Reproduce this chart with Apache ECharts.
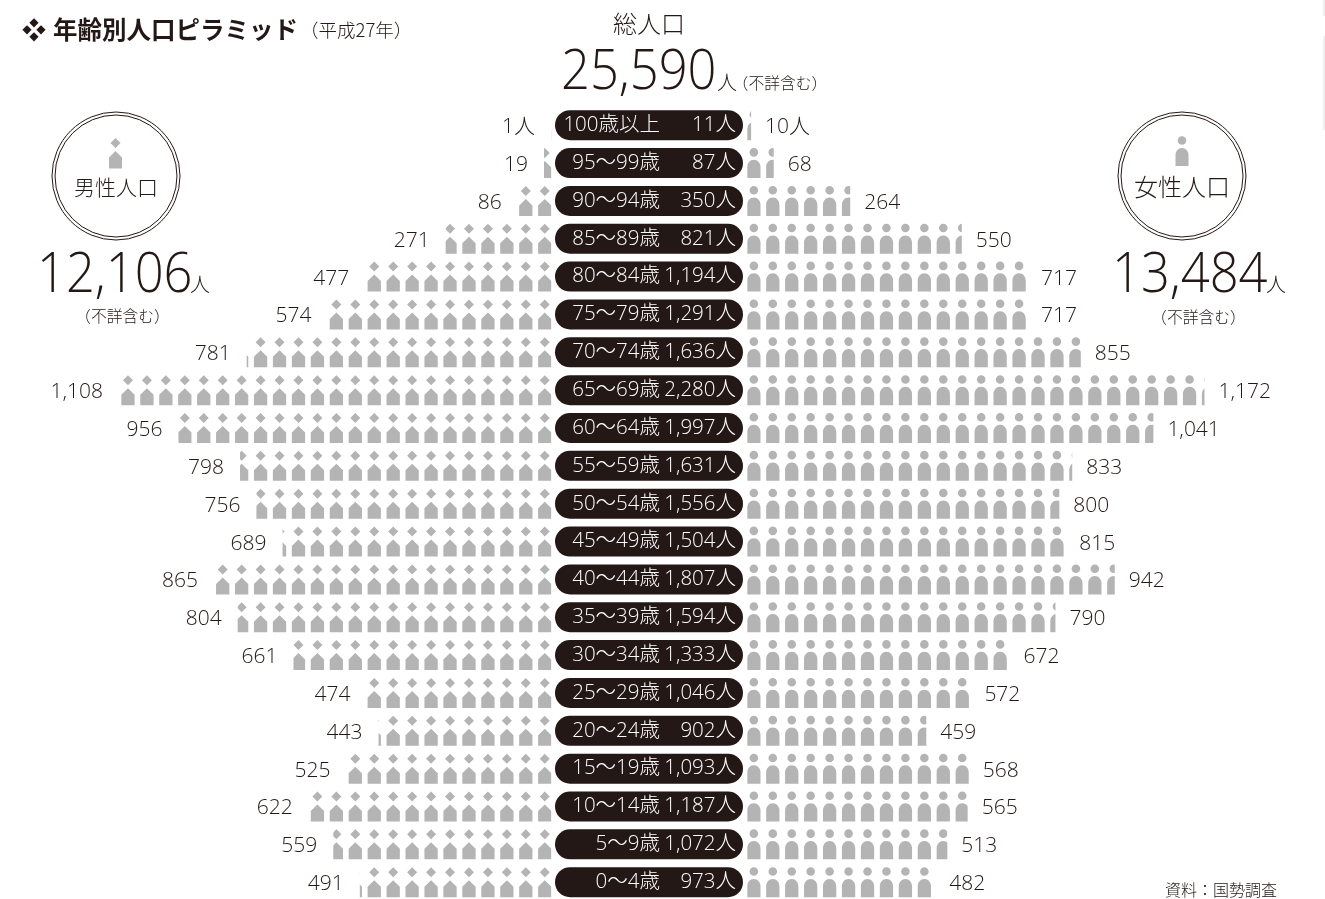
<!DOCTYPE html>
<html>
<head>
<meta charset="utf-8">
<title>年齢別人口ピラミッド</title>
<script src="https://cdn.jsdelivr.net/npm/echarts@6/dist/echarts.min.js"></script>
<style>
html, body { margin: 0; padding: 0; background: #fff; }
#mychart { width: 1325px; height: 899px; }
</style>
</head>
<body>
<div id="mychart"></div>
<script>
var ages = ['100歳以上', '95～99歳', '90～94歳', '85～89歳', '80～84歳', '75～79歳', '70～74歳',
    '65～69歳', '60～64歳', '55～59歳', '50～54歳', '45～49歳', '40～44歳', '35～39歳', '30～34歳',
    '25～29歳', '20～24歳', '15～19歳', '10～14歳', '5～9歳', '0～4歳'];
var male = [1, 19, 86, 271, 477, 574, 781, 1108, 956, 798, 756, 689, 865, 804, 661, 474, 443, 525, 622, 559, 491];
var female = [10, 68, 264, 550, 717, 717, 855, 1172, 1041, 833, 800, 815, 942, 790, 672, 572, 459, 568, 565, 513, 482];
var totals = [11, 87, 350, 821, 1194, 1291, 1636, 2280, 1997, 1631, 1556, 1504, 1807, 1594, 1333, 1046, 902, 1093, 1187, 1072, 973];
var pill = ages.map(function () { return 1; });
var totalAll = '25,590';
var totalMale = '12,106';
var totalFemale = '13,484';

var ink = '#231815';
var gray = '#b4b4b4';
var fontNum = '"Open Sans", "Noto Sans CJK JP", sans-serif';
var fontJp = '"Noto Sans CJK JP", sans-serif';

// figures, each one stands for 50 people
var manPath = 'path://M6.65 0L11.65 5L6.65 10L1.65 5ZM6.65 13L13.3 19.5L13.3 30L0 30L0 19.5Z';
var womanPath = 'path://M6.65 0A4.3 4.3 0 1 1 6.65 8.6A4.3 4.3 0 1 1 6.65 0ZM6.65 11.7C10.6 11.7 13.3 15 13.3 19L13.3 30L0 30L0 19C0 15 2.7 11.7 6.65 11.7Z';
// 27 figures fit exactly in this width, which keeps the pitch at 19.67px
var axisMax = 1345;
var sideWidth = 524.8;
// grid runs from the first row centre to the last one (boundaryGap false), a taller grid gets cut by the canvas
var rowsTop = 125.2;
var rowsHeight = 757;

function num(v) {
    return String(v).replace(/\B(?=(\d{3})+$)/g, ',');
}

function figureSeries(name, data, path, xIndex) {
    return {
        name: name,
        type: 'pictorialBar',
        xAxisIndex: xIndex,
        yAxisIndex: xIndex,
        data: data,
        symbol: path,
        symbolSize: [13.3, 30],
        symbolRepeat: 'fixed',
        symbolMargin: 3.15,
        symbolClip: true,
        symbolBoundingData: axisMax,
        symbolPosition: 'start',
        itemStyle: { color: gray },
        silent: true
    };
}

// pictorialBar puts its label at the bounding data, so the numbers sit on an invisible bar
function labelSeries(name, data, xIndex, pos, gap) {
    return {
        name: name,
        type: 'bar',
        xAxisIndex: xIndex,
        yAxisIndex: xIndex,
        data: data,
        barWidth: 30,
        clip: false,
        silent: true,
        itemStyle: { color: 'transparent' },
        label: {
            show: true,
            position: pos,
            distance: gap,
            offset: [0, 2],
            fontFamily: fontNum,
            fontWeight: 300,
            fontSize: 21,
            color: ink,
            formatter: function (p) {
                return num(p.value) + (p.dataIndex === 0 ? '人' : '');
            }
        }
    };
}

function txt(x, y, text, size, align, family, weight, scaleX) {
    return {
        type: 'text',
        x: x,
        y: y,
        scaleX: scaleX || 1,
        style: {
            text: text,
            fontSize: size,
            fontFamily: family || fontJp,
            fontWeight: weight || 300,
            fill: ink,
            align: align || 'left',
            verticalAlign: 'middle'
        }
    };
}

function ring(cx, cy) {
    return [
        { type: 'circle', shape: { cx: cx, cy: cy, r: 64 }, style: { fill: 'none', stroke: ink, lineWidth: 1 } },
        { type: 'circle', shape: { cx: cx, cy: cy, r: 61 }, style: { fill: 'none', stroke: ink, lineWidth: 1 } }
    ];
}

function diamond(cx, cy, r, color) {
    return {
        type: 'polygon',
        shape: { points: [[cx, cy - r], [cx + r, cy], [cx, cy + r], [cx - r, cy]] },
        style: { fill: color }
    };
}

var dom = document.getElementById('mychart');
var myChart = echarts.init(dom);

var option = {
    animation: false,
    backgroundColor: '#fff',
    textStyle: { fontFamily: fontJp },
    grid: [
        { left: 551.4 - sideWidth, width: sideWidth, top: rowsTop, height: rowsHeight },
        { left: 747.2, width: sideWidth, top: rowsTop, height: rowsHeight },
        { left: 555, width: 188, top: rowsTop, height: rowsHeight }
    ],
    xAxis: [
        { type: 'value', gridIndex: 0, inverse: true, min: 0, max: axisMax, show: false },
        { type: 'value', gridIndex: 1, min: 0, max: axisMax, show: false },
        { type: 'value', gridIndex: 2, min: 0, max: 1, show: false }
    ],
    yAxis: [
        { type: 'category', gridIndex: 0, inverse: true, boundaryGap: false, data: ages, show: false },
        { type: 'category', gridIndex: 1, inverse: true, boundaryGap: false, data: ages, show: false },
        { type: 'category', gridIndex: 2, inverse: true, boundaryGap: false, data: ages, show: false }
    ],
    series: [
        figureSeries('男性', male, manPath, 0),
        figureSeries('女性', female, womanPath, 1),
        labelSeries('男性人数', male, 0, 'left', 16),
        labelSeries('女性人数', female, 1, 'right', 14),
        {
            name: '総数',
            type: 'bar',
            xAxisIndex: 2,
            yAxisIndex: 2,
            data: pill,
            barWidth: 30,
            clip: false,
            silent: true,
            itemStyle: { color: ink, borderRadius: 15 },
            label: {
                show: true,
                position: 'insideLeft',
                distance: 0,
                formatter: function (p) {
                    return '{a|' + ages[p.dataIndex] + '}{b|' + num(totals[p.dataIndex]) + '人}';
                },
                rich: {
                    a: { width: 105, align: 'right', fontSize: 20.5, fontFamily: fontNum, fontWeight: 300, color: '#fff' },
                    b: { width: 76, align: 'right', fontSize: 20.5, fontFamily: fontNum, fontWeight: 300, color: '#fff' }
                }
            }
        }
    ],
    graphic: [
        diamond(34, 22.8, 4.6, ink),
        diamond(27, 29.8, 4.6, ink),
        diamond(41, 29.8, 4.6, ink),
        diamond(34, 36.8, 4.6, ink),
        txt(53, 30, '年齢別人口ピラミッド', 24.5, 'left', fontJp, 700),
        txt(300, 30, '（平成27年）', 18.5),
        txt(649, 24, '総人口', 24, 'center'),
        txt(561, 73, totalAll, 56, 'left', fontNum, 300, 0.905),
        txt(717, 82, '人', 20),
        txt(732.6, 83, '（不詳含む）', 15.8),
        // icon in the male circle
        diamond(115.5, 143, 5, gray),
        { type: 'polygon', shape: { points: [[115.5, 151], [122, 157.5], [122, 168.5], [109, 168.5], [109, 157.5]] }, style: { fill: gray } },
        // icon in the female circle
        { type: 'circle', shape: { cx: 1182, cy: 140.5, r: 4.3 }, style: { fill: gray } },
        { type: 'rect', shape: { x: 1175.5, y: 148, width: 13, height: 18, r: [6.5, 6.5, 0, 0] }, style: { fill: gray } },
        txt(116, 187, '男性人口', 21, 'center'),
        txt(1182, 187, '女性人口', 24, 'center'),
        txt(37, 276, totalMale, 56, 'left', fontNum, 300, 0.905),
        txt(190, 284, '人', 20),
        txt(122.5, 316, '（不詳含む）', 15.8, 'center'),
        txt(1112, 276, totalFemale, 56, 'left', fontNum, 300, 0.905),
        txt(1266, 284, '人', 20),
        txt(1198.5, 317, '（不詳含む）', 15.8, 'center'),
        txt(1165, 890, '資料：国勢調査', 16),
        // faint edge of the scanned page
        { type: 'rect', shape: { x: 1323, y: 0, width: 2, height: 16 }, style: { fill: '#f0f0f0' } },
        { type: 'rect', shape: { x: 1323, y: 36, width: 2, height: 94 }, style: { fill: '#f0f0f0' } }
    ].concat(ring(116, 176), ring(1182, 176))
};

if (option && typeof option === 'object') {
    myChart.setOption(option);
}
</script>
</body>
</html>
